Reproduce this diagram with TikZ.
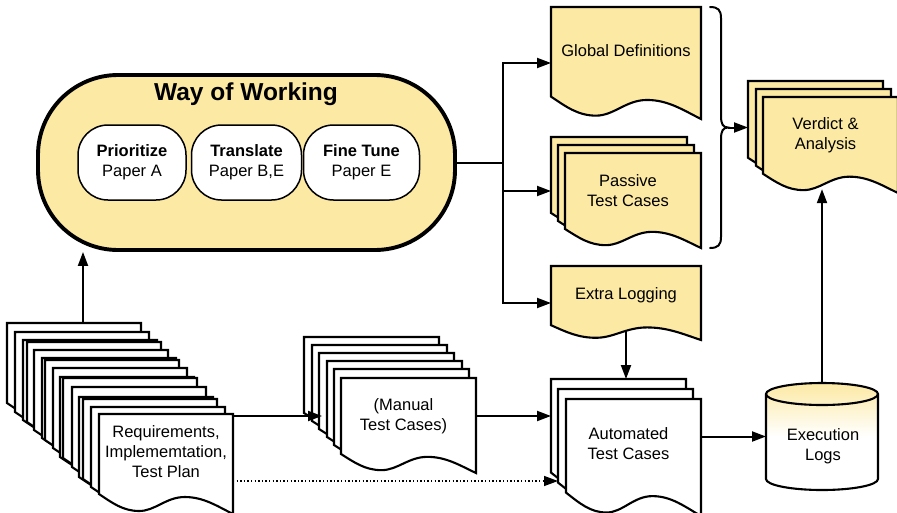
\documentclass[tikz,border=0pt]{standalone}
\usepackage{fontspec}
\setmainfont{Liberation Sans}
\usetikzlibrary{arrows.meta,calc}
\definecolor{docyellow}{HTML}{FCE9A4}

\pgfdeclarelayer{behind}
\pgfsetlayers{behind,main}

\tikzset{
  pageline/.style={line width=2.1pt, line join=miter},
  pagebox/.style={inner sep=0pt, outer sep=0pt},
  doctext/.style={font=\fontsize{16.5}{20}\selectfont, align=center, inner sep=0pt},
  titletext/.style={font=\fontsize{24.5}{29}\selectfont\bfseries, inner sep=0pt},
  wowbox/.style={draw, line width=3.9pt, fill=docyellow, rounded corners=80pt, inner sep=0pt},
  pill/.style={draw, line width=1.5pt, fill=white, rounded corners=30pt,
    minimum height=75pt, inner sep=0pt, align=center, font=\fontsize{16.5}{20}\selectfont},
  conn/.style={line width=2pt},
  arrow/.style={conn, -{Triangle[length=14pt, width=10pt]}},
  dotline/.style={line width=1.4pt, dash pattern=on 1.4pt off 2.2pt,
    -{Triangle[length=14pt, width=10pt]}},
  braceline/.style={line width=2pt, line cap=round}
}

% one sheet with a wavy lower edge: name, left, top, width, height, fill
\newcommand\docpage[6]{%
  \begin{scope}[shift={(#2,#3)}, x=#4pt, y=-#5pt]
    \draw[pageline, fill=#6] (0,0) -- (1,0) -- (1,1)
      .. controls (0.88,0.92) and (0.78,0.83) .. (0.64,0.83)
      .. controls (0.5,0.83) and (0.42,0.97) .. (0.3,0.97)
      .. controls (0.18,0.97) and (0.1,0.89) .. (0,0.8) -- cycle;
  \end{scope}
  \node[pagebox, minimum width=#4pt, minimum height=#5pt, anchor=north west] (#1) at (#2,#3) {};
}

\begin{document}
\begin{tikzpicture}[x=1pt, y=-1pt]
\useasboundingbox (0,0) rectangle (897,512);

% ---- Way of Working ----
\node[wowbox, minimum width=417pt, minimum height=175pt] (wow) at (246.5,162.5) {};
\node[titletext] (wow-title) at (246,94) {Way of Working};
\node[pill, minimum width=108pt] (prio) at (132,162.5) {\textbf{Prioritize}\\Paper A};
\node[pill, minimum width=110pt] (trans) at (246.5,162.5) {\textbf{Translate}\\Paper B,E};
\node[pill, minimum width=116pt] (fine) at (361.5,162.5) {\textbf{Fine Tune}\\Paper E};

% ---- requirements stack ----
\foreach \i/\px/\py in {1/7/323, 2/15/332, 3/23/340, 4/27/342, 5/34/350, 6/42/358,
    7/45/360, 8/53/368, 9/60/377, 10/63/378, 11/72/387, 12/79/397, 13/83/399,
    14/91/407, 15/99/414}
  {\docpage{req\i}{\px}{\py}{134}{100}{white}}
\node[doctext] (req-t) at ($(req15.north)!0.38!(req15.south)$) {Requirements,\\Implememtation,\\Test Plan};

% ---- manual test cases ----
\foreach \i/\px/\py in {1/304/337, 2/312/345, 3/319/353, 4/327/361, 5/334/369, 6/341/378}
  {\docpage{man\i}{\px}{\py}{135}{95}{white}}
\node[doctext, xshift=-5pt] (man-t) at ($(man6.north)!0.4!(man6.south)$) {(Manual\\Test Cases)};

% ---- automated test cases ----
\foreach \i/\px/\py in {1/551/379, 2/558/389, 3/566/399}
  {\docpage{auto\i}{\px}{\py}{135}{117}{white}}
\node[doctext, xshift=-5pt] (auto-t) at ($(auto3.north)!0.38!(auto3.south)$) {Automated\\Test Cases};

% ---- global definitions ----
\docpage{gdef}{551}{7}{150}{112}{docyellow}
\node[doctext] (gdef-t) at ($(gdef.north)!0.385!(gdef.south)$) {Global Definitions};

% ---- passive test cases ----
\foreach \i/\px/\py in {1/551/137, 2/558/145, 3/565/153}
  {\docpage{pas\i}{\px}{\py}{136}{95}{docyellow}}
\node[doctext, xshift=-5pt] (pas-t) at ($(pas3.north)!0.4!(pas3.south)$) {Passive\\Test Cases};

% ---- extra logging ----
\docpage{extra}{551}{266}{150}{74}{docyellow}
\node[doctext] (extra-t) at ($(extra.north)!0.4!(extra.south)$) {Extra Logging};

% ---- verdict & analysis ----
\foreach \i/\px/\py in {1/748/81, 2/756/89, 3/763/97}
  {\docpage{ver\i}{\px}{\py}{135}{96}{docyellow}}
\node[doctext, xshift=-5pt] (ver-t) at ($(ver3.north)!0.4!(ver3.south)$) {Verdict \&\\Analysis};

% ---- execution logs (cylinder) ----
\shade[top color=docyellow, bottom color=white, middle color=white]
  (766,394) -- (766,479) arc[start angle=180, end angle=0, x radius=56, y radius=11]
  -- (878,394) arc[start angle=0, end angle=-180, x radius=56, y radius=11] -- cycle;
\draw[pageline]
  (766,394) -- (766,479) arc[start angle=180, end angle=0, x radius=56, y radius=11]
  -- (878,394) arc[start angle=0, end angle=-180, x radius=56, y radius=11] -- cycle;
\draw[pageline] (766,394) arc[start angle=180, end angle=0, x radius=56, y radius=11];
\node[pagebox, minimum width=112pt, minimum height=107pt] (exec) at (822,436.5) {};
\node[doctext] (exec-t) at (823,446) {Execution\\Logs};

% ---- brace grouping the definitions and passive cases ----
\draw[braceline] (710,7) .. controls (718,7) and (721,10) .. (721,18) -- (721,116)
  .. controls (721,124) and (723,127.5) .. (728,127.5)
  .. controls (723,127.5) and (721,131) .. (721,139) -- (721,237)
  .. controls (721,245) and (718,248) .. (710,248);
\coordinate (bracetip) at (728,127.5);

% ---- connectors ----
\coordinate (split) at (503,162.5);
\draw[conn] (wow.east) -- (split);
\draw[arrow] (split) |- (gdef.west);
\draw[arrow] (split) |- (pas1.west |- pas-t);
\draw[arrow] (split) |- (extra.west);

\coordinate (reqtop) at ([xshift=76pt]req1.north west);
\draw[arrow] (reqtop) -- (reqtop |- wow.south);

\draw[arrow] (req15.east |- man-t) -- ([xshift=3pt]man3.west |- man-t);
\draw[arrow] (man6.east |- man-t) -- (auto1.west |- man-t);

\coordinate (dotstart) at ($(req15.north east)!0.67!(req15.south east)$);
\draw[dotline] (dotstart) -- (dotstart -| auto2.west);

\begin{pgfonlayer}{behind}
  \draw[arrow] (extra.center) -- (extra.center |- auto1.north);
\end{pgfonlayer}

\draw[arrow] (auto3.east |- exec.west) -- (exec.west);

\coordinate (verbot) at ($(ver3.north)!0.96!(ver3.south)$);
\draw[arrow] (exec.north) -- (exec.north |- verbot);

\draw[arrow] (bracetip) -- (ver1.west |- bracetip);
\end{tikzpicture}
\end{document}
